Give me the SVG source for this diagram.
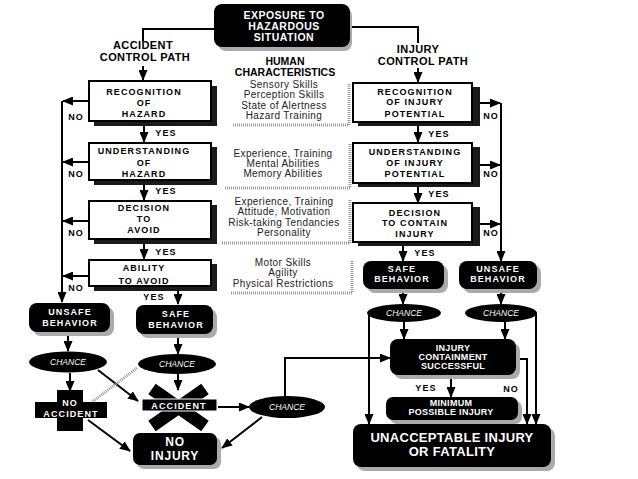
<svg xmlns="http://www.w3.org/2000/svg" width="638" height="479" viewBox="0 0 638 479">
<defs>
<marker id="ah" markerUnits="userSpaceOnUse" markerWidth="11" markerHeight="9" refX="10" refY="4.5" orient="auto"><path d="M0,0 L11,4.5 L0,9 z" fill="#000"/></marker>
<style>
.b{font-family:"Liberation Sans",Arial,sans-serif;font-weight:bold;text-anchor:middle}
.t9{font-size:9px;letter-spacing:1.1px}
.w{fill:#fff}
.k{fill:#000}
.d{font-family:"Liberation Sans",Arial,sans-serif;font-size:10px;letter-spacing:0.4px;text-anchor:middle;fill:#222}
.ch{font-family:"Liberation Sans",Arial,sans-serif;font-size:8.5px;font-style:italic;text-anchor:middle;fill:#fff}
.wb{fill:#fff;stroke:#000;stroke-width:2}
.sh{fill:#1a1a1a}
.gs{fill:#aaa}
.bb{fill:#000}
.ln{fill:none;stroke:#000;stroke-width:2}
.ar{fill:none;stroke:#000;stroke-width:2;marker-end:url(#ah)}
.hat{fill:none;stroke:#999;stroke-width:3;stroke-dasharray:1 1}
</style>
</defs>
<rect width="638" height="479" fill="#fff"/>

<g id="human">
<text class="b" x="285" y="65" font-size="10.5">HUMAN</text>
<text class="b" x="285" y="76" font-size="10.5">CHARACTERISTICS</text>
<text class="d" x="284" y="88">Sensory Skills</text>
<text class="d" x="284" y="98">Perception Skills</text>
<text class="d" x="284" y="108.5">State of Alertness</text>
<text class="d" x="284" y="119">Hazard Training</text>
<path class="hat" d="M233,125 H349 V83"/>
<text class="d" x="283" y="157">Experience, Training</text>
<text class="d" x="283" y="167">Mental Abilities</text>
<text class="d" x="283" y="177">Memory Abilities</text>
<path class="hat" d="M225,188 H350 V143"/>
<text class="d" x="284" y="205">Experience, Training</text>
<text class="d" x="284" y="215">Attitude, Motivation</text>
<text class="d" x="284" y="225.5">Risk-taking Tendancies</text>
<text class="d" x="284" y="235.5">Personality</text>
<path class="hat" d="M222,243 H350 V199"/>
<text class="d" x="283" y="266">Motor Skills</text>
<text class="d" x="283" y="276">Agility</text>
<text class="d" x="283" y="287">Physical Restrictions</text>
<path class="hat" d="M231,293 H352 V260"/>
</g>

<g id="connectors">
<path class="ln" d="M214,29 H143 V41"/>
<path class="ln" d="M352,27 H418 V43"/>
<path class="ar" d="M143,66 V80"/>
<path class="ar" d="M418,68 V82"/>
<path class="ar" d="M144,126 V142"/>
<path class="ar" d="M144,184 V200"/>
<path class="ar" d="M144,243 V259"/>
<path class="ar" d="M178,290 V304"/>
<path class="ar" d="M88,101 H63"/>
<path class="ar" d="M88,162 H63"/>
<path class="ar" d="M88,221 H63"/>
<path class="ar" d="M88,276 H63"/>
<path class="ar" d="M62,101 V302"/>
<path class="ar" d="M418,126 V142"/>
<path class="ar" d="M418,187 V203"/>
<path class="ar" d="M403,246 V261"/>
<path class="ar" d="M479,103 H500"/>
<path class="ar" d="M479,165 H500"/>
<path class="ar" d="M479,224 H500"/>
<path class="ar" d="M501,103 V261"/>
<path class="ar" d="M68,333 V351"/>
<path class="ar" d="M178,335 V354"/>
<path class="ar" d="M70,373 V391"/>
<path class="ar" d="M178,374 V390"/>
<path class="ar" d="M98,370 L138,401"/>
<path class="hat" d="M137,368 L92,402" stroke-width="4"/>
<path class="ar" d="M88,420 L130,451"/>
<path class="ar" d="M218,407 H249"/>
<path class="ln" d="M285,397 V358"/>
<path class="ar" d="M284,358 H390"/>
<path class="ar" d="M262,417 L222,448"/>
<path class="ar" d="M403,289 V304"/>
<path class="ar" d="M501,289 V304"/>
<path class="ar" d="M404,322 V339"/>
<path class="ar" d="M505,322 V339"/>
<path class="ar" d="M369,313 V424"/>
<path class="ar" d="M536,313 V424"/>
<path class="ar" d="M516,359 H527 V424"/>
<path class="ar" d="M451,375 V397"/>
</g>

<g id="labels">
<text class="b t9" x="166" y="136">YES</text>
<text class="b t9" x="166" y="194">YES</text>
<text class="b t9" x="166" y="255">YES</text>
<text class="b t9" x="154" y="300">YES</text>
<text class="b t9" x="76" y="120">NO</text>
<text class="b t9" x="76" y="177">NO</text>
<text class="b t9" x="76" y="236">NO</text>
<text class="b t9" x="76" y="291">NO</text>
<text class="b t9" x="439" y="137">YES</text>
<text class="b t9" x="439" y="197">YES</text>
<text class="b t9" x="425" y="256">YES</text>
<text class="b t9" x="491" y="119">NO</text>
<text class="b t9" x="491" y="177">NO</text>
<text class="b t9" x="491" y="236">NO</text>
<text class="b t9" x="426" y="391">YES</text>
<text class="b t9" x="511" y="392">NO</text>
<text class="b" x="143" y="49" font-size="11" letter-spacing="0.4">ACCIDENT</text>
<text class="b" x="145" y="61" font-size="11" letter-spacing="0.4">CONTROL PATH</text>
<text class="b" x="418" y="53" font-size="11" letter-spacing="0.4">INJURY</text>
<text class="b" x="423" y="65" font-size="11" letter-spacing="0.4">CONTROL PATH</text>
</g>

<g id="exposure">
<rect class="gs" x="218" y="8" width="134" height="43" rx="8"/>
<rect class="bb" x="214" y="4" width="136" height="43" rx="8"/>
<text class="b w" x="284" y="18.5" font-size="10.5" letter-spacing="0.5">EXPOSURE TO</text>
<text class="b w" x="284" y="29.5" font-size="10.5" letter-spacing="0.5">HAZARDOUS</text>
<text class="b w" x="284" y="40.5" font-size="10.5" letter-spacing="0.5">SITUATION</text>
</g>

<g id="recognition-hazard">
<rect class="sh" x="94" y="86" width="123" height="40"/>
<rect class="wb" x="89" y="81" width="122" height="40"/>
<text class="b t9" x="144" y="95">RECOGNITION</text>
<text class="b t9" x="144" y="106">OF</text>
<text class="b t9" x="144" y="117">HAZARD</text>
</g>
<g id="understanding-hazard">
<rect class="sh" x="94" y="147" width="123" height="38"/>
<rect class="wb" x="89" y="143" width="122" height="37"/>
<text class="b t9" x="144" y="154">UNDERSTANDING</text>
<text class="b t9" x="144" y="166">OF</text>
<text class="b t9" x="144" y="177">HAZARD</text>
</g>
<g id="decision-avoid">
<rect class="sh" x="94" y="205" width="123" height="39"/>
<rect class="wb" x="89" y="201" width="122" height="38"/>
<text class="b t9" x="144" y="211">DECISION</text>
<text class="b t9" x="144" y="222">TO</text>
<text class="b t9" x="144" y="233">AVOID</text>
</g>
<g id="ability-avoid">
<rect class="sh" x="94" y="264" width="123" height="27"/>
<rect class="wb" x="89" y="260" width="122" height="26"/>
<text class="b t9" x="144" y="271">ABILITY</text>
<text class="b t9" x="144" y="284">TO AVOID</text>
</g>

<g id="recognition-injury">
<rect class="sh" x="358" y="87" width="122" height="39"/>
<rect class="wb" x="353" y="83" width="119" height="39"/>
<text class="b t9" x="415" y="95">RECOGNITION</text>
<text class="b t9" x="415" y="105">OF INJURY</text>
<text class="b t9" x="415" y="117">POTENTIAL</text>
</g>
<g id="understanding-injury">
<rect class="sh" x="358" y="147" width="122" height="40"/>
<rect class="wb" x="353" y="143" width="119" height="40"/>
<text class="b t9" x="415" y="155">UNDERSTANDING</text>
<text class="b t9" x="415" y="166">OF INJURY</text>
<text class="b t9" x="415" y="177">POTENTIAL</text>
</g>
<g id="decision-contain">
<rect class="sh" x="358" y="207" width="122" height="39"/>
<rect class="wb" x="353" y="203" width="119" height="39"/>
<text class="b t9" x="415" y="216">DECISION</text>
<text class="b t9" x="415" y="226">TO CONTAIN</text>
<text class="b t9" x="415" y="237">INJURY</text>
</g>

<g id="unsafe-left">
<rect class="gs" x="33" y="307" width="81" height="29" rx="8"/>
<rect class="bb" x="29" y="303" width="81" height="29" rx="8"/>
<text class="b t9 w" x="70" y="315">UNSAFE</text>
<text class="b t9 w" x="70" y="326">BEHAVIOR</text>
</g>
<g id="safe-left">
<rect class="gs" x="140" y="309" width="77" height="29" rx="8"/>
<rect class="bb" x="136" y="305" width="77" height="29" rx="8"/>
<text class="b t9 w" x="176" y="317">SAFE</text>
<text class="b t9 w" x="176" y="328">BEHAVIOR</text>
</g>
<g id="chance-left">
<ellipse class="bb" cx="68" cy="362" rx="39" ry="10.5"/>
<text class="ch" x="68" y="365">CHANCE</text>
</g>
<g id="chance-mid">
<ellipse class="bb" cx="177" cy="364" rx="39" ry="10"/>
<text class="ch" x="177" y="367">CHANCE</text>
</g>
<g id="no-accident">
<rect class="bb" x="57" y="390" width="26" height="41"/>
<rect class="bb" x="35" y="402" width="72" height="16"/>
<text class="b t9 w" x="70" y="406">NO</text>
<text class="b t9 w" x="71" y="417">ACCIDENT</text>
</g>
<g id="accident">
<path d="M152,389 L205,426 M205,389 L152,426" stroke="#000" stroke-width="13" fill="none"/>
<rect class="bb" x="142" y="399" width="75" height="12" stroke="#fff" stroke-width="1"/>
<text class="b t9 w" x="179" y="408.5">ACCIDENT</text>
</g>
<g id="chance-accident">
<ellipse class="bb" cx="287" cy="407" rx="38" ry="11"/>
<text class="ch" x="287" y="410">CHANCE</text>
</g>
<g id="no-injury">
<rect class="gs" x="137" y="437" width="84" height="32" rx="7"/>
<rect class="bb" x="133" y="433" width="84" height="32" rx="7"/>
<text class="b w" x="175" y="446" font-size="12" letter-spacing="0.8">NO</text>
<text class="b w" x="175" y="460" font-size="12" letter-spacing="0.8">INJURY</text>
</g>

<g id="safe-right">
<rect class="gs" x="367" y="265" width="81" height="28" rx="8"/>
<rect class="bb" x="363" y="261" width="81" height="28" rx="8"/>
<text class="b t9 w" x="402" y="272">SAFE</text>
<text class="b t9 w" x="402" y="282">BEHAVIOR</text>
</g>
<g id="unsafe-right">
<rect class="gs" x="463" y="265" width="78" height="28" rx="8"/>
<rect class="bb" x="459" y="261" width="78" height="28" rx="8"/>
<text class="b t9 w" x="498" y="272">UNSAFE</text>
<text class="b t9 w" x="498" y="282">BEHAVIOR</text>
</g>
<g id="chance-r1">
<ellipse class="bb" cx="404" cy="313" rx="37" ry="9"/>
<text class="ch" x="404" y="316">CHANCE</text>
</g>
<g id="chance-r2">
<ellipse class="bb" cx="501" cy="313" rx="36" ry="9"/>
<text class="ch" x="501" y="316">CHANCE</text>
</g>
<g id="containment">
<rect class="gs" x="394" y="343" width="126" height="36" rx="8"/>
<rect class="bb" x="390" y="339" width="126" height="36" rx="8"/>
<text class="b w" x="453" y="351" font-size="9" letter-spacing="0.3">INJURY</text>
<text class="b w" x="453" y="360" font-size="9" letter-spacing="0.3">CONTAINMENT</text>
<text class="b w" x="453" y="369" font-size="9" letter-spacing="0.3">SUCCESSFUL</text>
</g>
<g id="minimum">
<rect class="gs" x="390" y="401" width="132" height="23" rx="7"/>
<rect class="bb" x="386" y="397" width="132" height="23" rx="7"/>
<text class="b w" x="451" y="406" font-size="9" letter-spacing="0.3">MINIMUM</text>
<text class="b w" x="451" y="415" font-size="9" letter-spacing="0.3">POSSIBLE INJURY</text>
</g>
<g id="unacceptable">
<rect class="gs" x="357" y="428" width="198" height="43" rx="8"/>
<rect class="bb" x="353" y="424" width="198" height="43" rx="8"/>
<text class="b w" x="452" y="442" font-size="13" letter-spacing="0.3">UNACCEPTABLE INJURY</text>
<text class="b w" x="452" y="456" font-size="13" letter-spacing="0.3">OR FATALITY</text>
</g>
</svg>
